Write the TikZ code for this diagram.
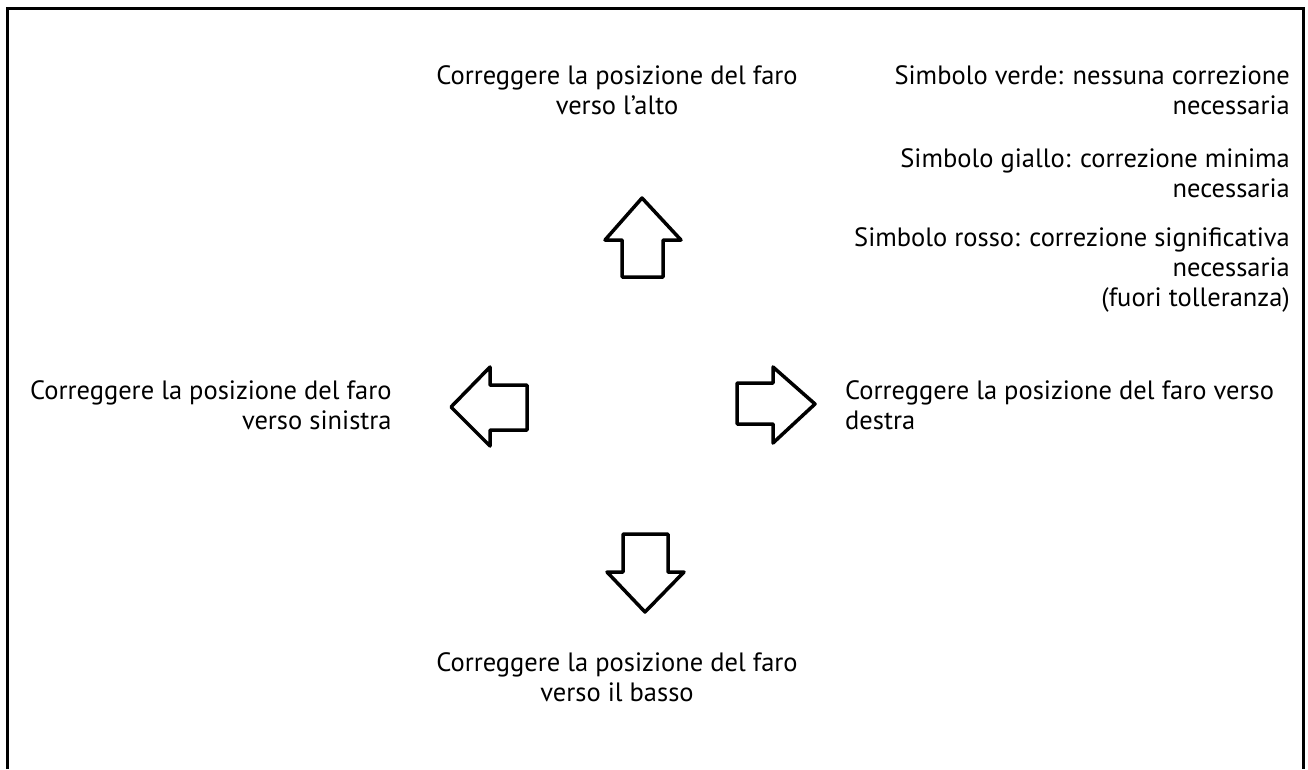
\documentclass[tikz,border=0pt]{standalone}
\usepackage{fontspec}
\setmainfont{PT Sans}
\begin{document}
\begin{tikzpicture}[x=1pt,y=-1pt,
  lbl/.style={inner sep=0pt,font=\fontsize{26.5}{30}\selectfont},
  arrowshape/.style={draw=black,line width=3.5pt,line join=round,fill=white}]
\useasboundingbox (0,0) rectangle (1308,769);
\draw[line width=3pt] (7,769) -- (7,8) -- (1303,8) -- (1303,769);
% arrows
\draw[arrowshape] (642,198) -- (681,240) -- (663,240) -- (663,277) -- (622,277) -- (622,240) -- (605,240) -- cycle;
\draw[arrowshape] (451,407) -- (490,367) -- (490,385) -- (527,385) -- (527,430) -- (490,430) -- (490,446) -- cycle;
\draw[arrowshape] (815,404) -- (773,367) -- (773,383) -- (737,383) -- (737,424) -- (773,424) -- (773,443) -- cycle;
\draw[arrowshape] (645,612) -- (684,572) -- (668,572) -- (668,534) -- (623,534) -- (623,572) -- (607,572) -- cycle;
% texts
\node[lbl,align=center] (top) at (617,90) {Correggere la posizione del faro\\verso l'alto};
\node[lbl,align=center] (bot) at (617,677) {Correggere la posizione del faro\\verso il basso};
\node[lbl,align=right,anchor=west] (left) at (30,405) {Correggere la posizione del faro\\verso sinistra};
\node[lbl,align=left,anchor=west] (right) at (845,405) {Correggere la posizione del faro verso\\destra};
\node[lbl,align=right,anchor=east] (g) at (1290,90) {Simbolo verde: nessuna correzione\\necessaria};
\node[lbl,align=right,anchor=east] (y) at (1290,173) {Simbolo giallo: correzione minima\\necessaria};
\node[lbl,align=right,anchor=east] (r) at (1290,270) {Simbolo rosso: correzione significativa\\necessaria\\(fuori tolleranza)};
\end{tikzpicture}
\end{document}
